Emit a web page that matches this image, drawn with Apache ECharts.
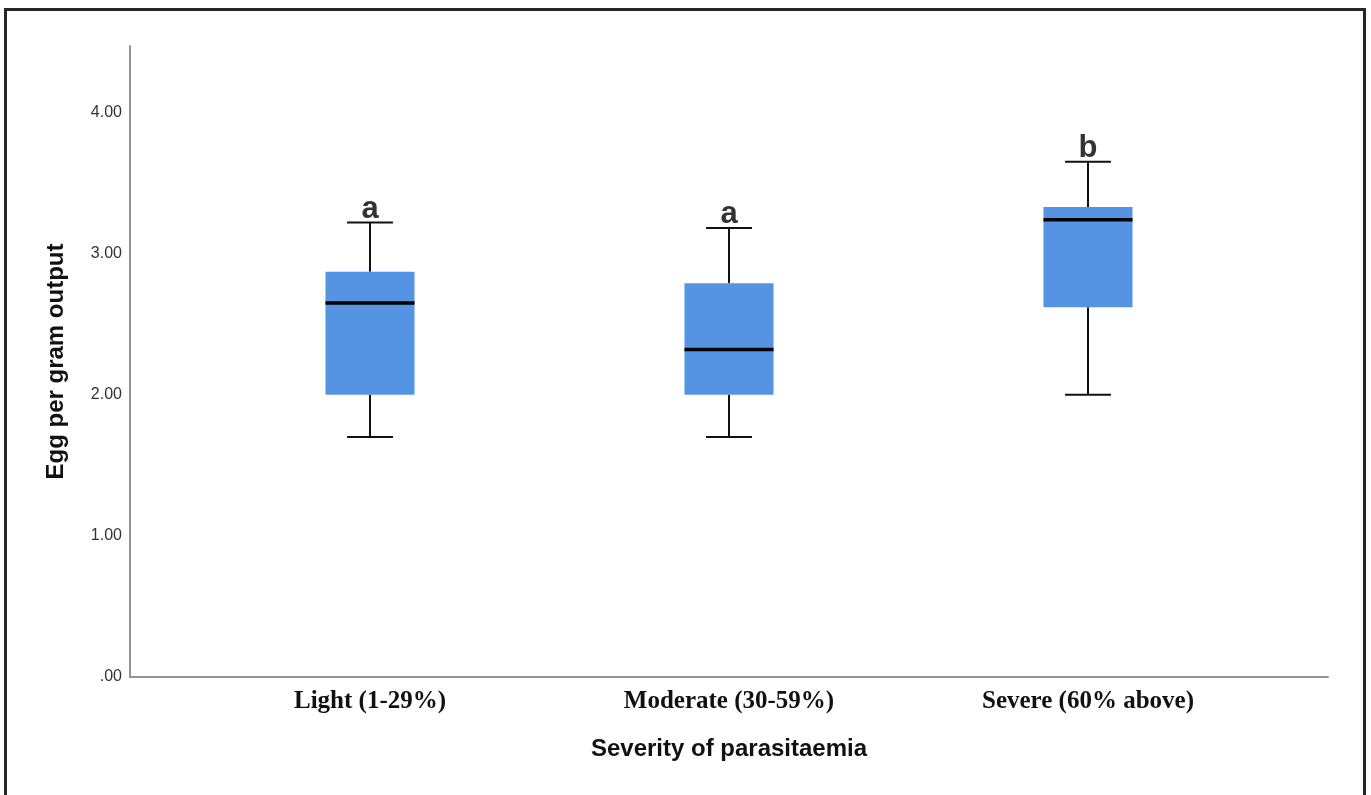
<!DOCTYPE html>
<html>
<head>
<meta charset="utf-8">
<script src="https://cdn.jsdelivr.net/npm/echarts@6/dist/echarts.min.js"></script>
<style>
  html, body { margin: 0; padding: 0; background: #fff; }
  #chart { position: absolute; left: 0; top: 0; width: 1371px; height: 795px; }
  #frame { position: absolute; left: 4px; top: 8px; width: 1362px; height: 800px; box-sizing: border-box;
           border: 3px solid #262626; border-bottom: none; pointer-events: none; }
</style>
</head>
<body>
<div id="chart"></div>
<div id="frame"></div>
<script>
const categories = ['Light (1-29%)', 'Moderate (30-59%)', 'Severe (60% above)'];
const whiskerLow = [1.70, 1.70, 2.00];
const q1 = [2.00, 2.00, 2.62];
const median = [2.65, 2.32, 3.24];
const q3 = [2.87, 2.79, 3.33];
const whiskerHigh = [3.22, 3.18, 3.65];
const letters = ['a', 'a', 'b'];
const yTicks = [0, 1, 2, 3, 4];

const boxData = categories.map((c, i) => [i, whiskerLow[i], q1[i], median[i], q3[i], whiskerHigh[i]]);
const letterData = categories.map((c, i) => [i, whiskerHigh[i], letters[i]]);

const chart = echarts.init(document.getElementById('chart'), null, { renderer: 'canvas' });

function renderBox(params, api) {
  const idx = api.value(0);
  const band = api.size([1, 0])[0];
  const boxW = band * 0.248;
  const capW = band * 0.128;
  const pLow = api.coord([idx, api.value(1)]);
  const pQ1 = api.coord([idx, api.value(2)]);
  const pMed = api.coord([idx, api.value(3)]);
  const pQ3 = api.coord([idx, api.value(4)]);
  const pHigh = api.coord([idx, api.value(5)]);
  const cx = pQ1[0];
  const lineStyle = { stroke: '#111', lineWidth: 2 };
  return {
    type: 'group',
    children: [
      { type: 'line', shape: { x1: cx, y1: pHigh[1], x2: cx, y2: pQ3[1] }, style: lineStyle },
      { type: 'line', shape: { x1: cx, y1: pQ1[1], x2: cx, y2: pLow[1] }, style: lineStyle },
      { type: 'line', shape: { x1: cx - capW / 2, y1: pHigh[1], x2: cx + capW / 2, y2: pHigh[1] }, style: lineStyle },
      { type: 'line', shape: { x1: cx - capW / 2, y1: pLow[1], x2: cx + capW / 2, y2: pLow[1] }, style: lineStyle },
      { type: 'rect', shape: { x: cx - boxW / 2, y: pQ3[1], width: boxW, height: pQ1[1] - pQ3[1] },
        style: { fill: '#5494e2', stroke: null } },
      { type: 'line', shape: { x1: cx - boxW / 2, y1: pMed[1], x2: cx + boxW / 2, y2: pMed[1] },
        style: { stroke: '#000', lineWidth: 3.5 } }
    ]
  };
}

const option = {
  animation: false,
  backgroundColor: '#ffffff',
  grid: [
    { left: 190.5, right: 103.5, top: 46, bottom: 118 },
    { left: 130, right: 43, top: 46, bottom: 118 }
  ],
  xAxis: [
    {
      type: 'category', gridIndex: 0, data: categories,
      axisLine: { show: false }, axisTick: { show: false },
      axisLabel: { margin: 12, fontFamily: '"Liberation Serif", "Times New Roman", serif', fontWeight: 'bold', fontSize: 25, color: '#111' },
      name: 'Severity of parasitaemia', nameLocation: 'middle', nameGap: 60,
      nameTextStyle: { fontFamily: '"Liberation Sans", Arial, sans-serif', fontWeight: 'bold', fontSize: 24, color: '#111' }
    },
    {
      type: 'value', gridIndex: 1, min: 0, max: 1,
      axisLine: { show: true, lineStyle: { color: '#939393', width: 2 } },
      axisTick: { show: false }, axisLabel: { show: false }, splitLine: { show: false }
    }
  ],
  yAxis: [
    {
      type: 'value', gridIndex: 0, min: 0, max: 4.47, interval: 1, offset: 60.5,
      axisLine: { show: true, lineStyle: { color: '#939393', width: 2 } },
      axisTick: { show: false }, splitLine: { show: false },
      axisLabel: {
        margin: 8, fontFamily: '"Liberation Sans", Arial, sans-serif', fontSize: 16, color: '#333',
        showMaxLabel: false,
        formatter: function (v) {
          if (yTicks.indexOf(v) < 0) return '';
          return v === 0 ? '.00' : v.toFixed(2);
        }
      },
      name: 'Egg per gram output', nameLocation: 'middle', nameGap: 62,
      nameTextStyle: { fontFamily: '"Liberation Sans", Arial, sans-serif', fontWeight: 'bold', fontSize: 24, color: '#111' }
    },
    { type: 'value', gridIndex: 1, show: false, min: 0, max: 1 }
  ],
  series: [
    {
      type: 'custom', xAxisIndex: 0, yAxisIndex: 0, renderItem: renderBox,
      encode: { x: 0, y: [1, 2, 3, 4, 5] }, data: boxData, silent: true
    },
    {
      type: 'scatter', xAxisIndex: 0, yAxisIndex: 0, symbolSize: 0, silent: true,
      data: letterData,
      label: {
        show: true, position: 'top', distance: -2,
        formatter: function (p) { return p.data[2]; },
        fontFamily: '"Liberation Sans", Arial, sans-serif', fontWeight: 'bold', fontSize: 31, color: '#000'
      }
    }
  ]
};
chart.setOption(option);
</script>
</body>
</html>
